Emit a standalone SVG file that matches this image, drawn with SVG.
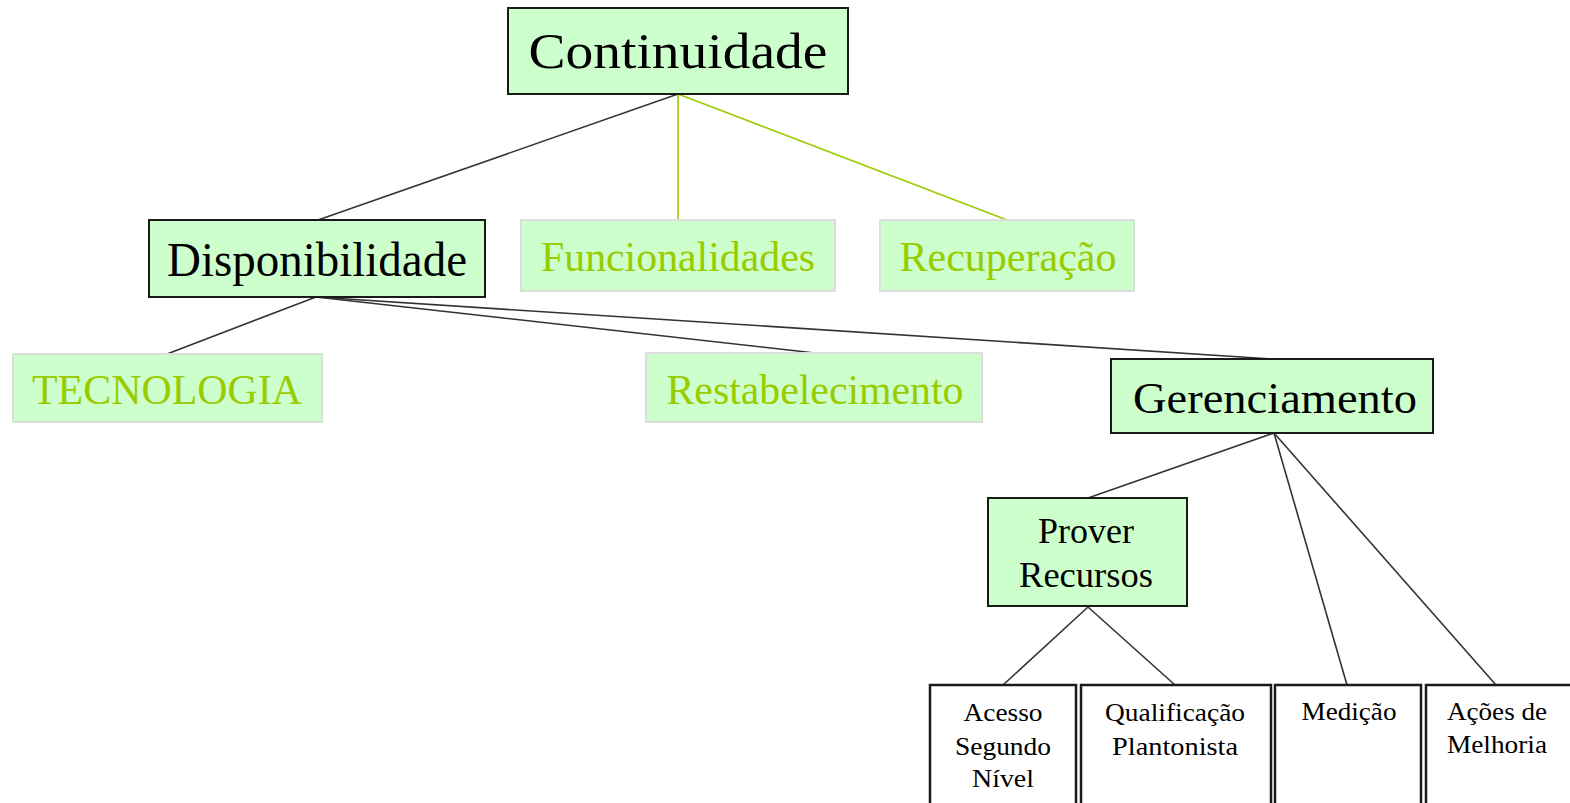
<svg xmlns="http://www.w3.org/2000/svg" width="1570" height="803" viewBox="0 0 1570 803">
<style>
.bg{fill:#ffffff}
.main rect{fill:#ccffcc;stroke:#1a1a1a;stroke-width:2}
.soft rect{fill:#ccffcc;stroke:#dddddd;stroke-width:2}
.leaf rect{fill:#ffffff;stroke:#1a1a1a;stroke-width:2.5}
text{font-family:"Liberation Serif","Times New Roman",serif;text-anchor:middle}
.main text{fill:#000000}
.soft text{fill:#99cc00}
.leaf text{fill:#000000;font-size:25px}
.c line{stroke:#333333;stroke-width:1.6}
.c line.g{stroke:#99cc00}
</style>
<rect class="bg" x="0" y="0" width="1570" height="803"/>
<g class="c" id="connectors">
<line x1="678" y1="94" x2="318" y2="220"/>
<line class="g" x1="678" y1="94" x2="678" y2="220"/>
<line class="g" x1="678" y1="94" x2="1007" y2="220"/>
<line x1="316" y1="297" x2="167" y2="354"/>
<line x1="316" y1="297" x2="815" y2="353"/>
<line x1="316" y1="297" x2="1272" y2="359"/>
<line x1="1274" y1="433" x2="1088" y2="498"/>
<line x1="1274" y1="433" x2="1347" y2="685"/>
<line x1="1274" y1="433" x2="1496" y2="685"/>
<line x1="1088" y1="607" x2="1003" y2="685"/>
<line x1="1088" y1="607" x2="1175" y2="685"/>
</g>
<g id="continuidade" class="main">
<rect x="508" y="8" width="340" height="86"/>
<text x="678" y="68" font-size="50" textLength="299" lengthAdjust="spacingAndGlyphs">Continuidade</text>
</g>
<g id="disponibilidade" class="main">
<rect x="149" y="220" width="336" height="77"/>
<text x="317" y="276" font-size="49" textLength="300" lengthAdjust="spacingAndGlyphs">Disponibilidade</text>
</g>
<g id="funcionalidades" class="soft">
<rect x="521" y="220" width="314" height="71"/>
<text x="678" y="271" font-size="42" textLength="274" lengthAdjust="spacingAndGlyphs">Funcionalidades</text>
</g>
<g id="recuperacao" class="soft">
<rect x="880" y="220" width="254" height="71"/>
<text x="1008" y="271" font-size="42" textLength="217" lengthAdjust="spacingAndGlyphs">Recuperação</text>
</g>
<g id="tecnologia" class="soft">
<rect x="13" y="354" width="309" height="68"/>
<text x="167" y="404" font-size="42" textLength="270" lengthAdjust="spacingAndGlyphs">TECNOLOGIA</text>
</g>
<g id="restabelecimento" class="soft">
<rect x="646" y="353" width="336" height="69"/>
<text x="815" y="404" font-size="42" textLength="297" lengthAdjust="spacingAndGlyphs">Restabelecimento</text>
</g>
<g id="gerenciamento" class="main">
<rect x="1111" y="359" width="322" height="74"/>
<text x="1275" y="413" font-size="45" textLength="284" lengthAdjust="spacingAndGlyphs">Gerenciamento</text>
</g>
<g id="prover-recursos" class="main">
<rect x="988" y="498" width="199" height="108"/>
<text x="1086" y="543" font-size="36" textLength="96" lengthAdjust="spacingAndGlyphs">Prover</text>
<text x="1086" y="587" font-size="36" textLength="134" lengthAdjust="spacingAndGlyphs">Recursos</text>
</g>
<g id="acesso-segundo-nivel" class="leaf">
<rect x="930" y="685" width="146" height="130"/>
<text x="1003" y="721" textLength="79" lengthAdjust="spacingAndGlyphs">Acesso</text>
<text x="1003" y="755" textLength="96" lengthAdjust="spacingAndGlyphs">Segundo</text>
<text x="1003" y="787" textLength="62" lengthAdjust="spacingAndGlyphs">Nível</text>
</g>
<g id="qualificacao-plantonista" class="leaf">
<rect x="1081" y="685" width="190" height="130"/>
<text x="1175" y="721" textLength="140" lengthAdjust="spacingAndGlyphs">Qualificação</text>
<text x="1175" y="755" textLength="126" lengthAdjust="spacingAndGlyphs">Plantonista</text>
</g>
<g id="medicao" class="leaf">
<rect x="1275" y="685" width="146" height="130"/>
<text x="1349" y="720" textLength="95" lengthAdjust="spacingAndGlyphs">Medição</text>
</g>
<g id="acoes-de-melhoria" class="leaf">
<rect x="1426" y="685" width="150" height="130"/>
<text x="1497" y="720" textLength="100" lengthAdjust="spacingAndGlyphs">Ações de</text>
<text x="1497" y="753" textLength="100" lengthAdjust="spacingAndGlyphs">Melhoria</text>
</g>
</svg>
